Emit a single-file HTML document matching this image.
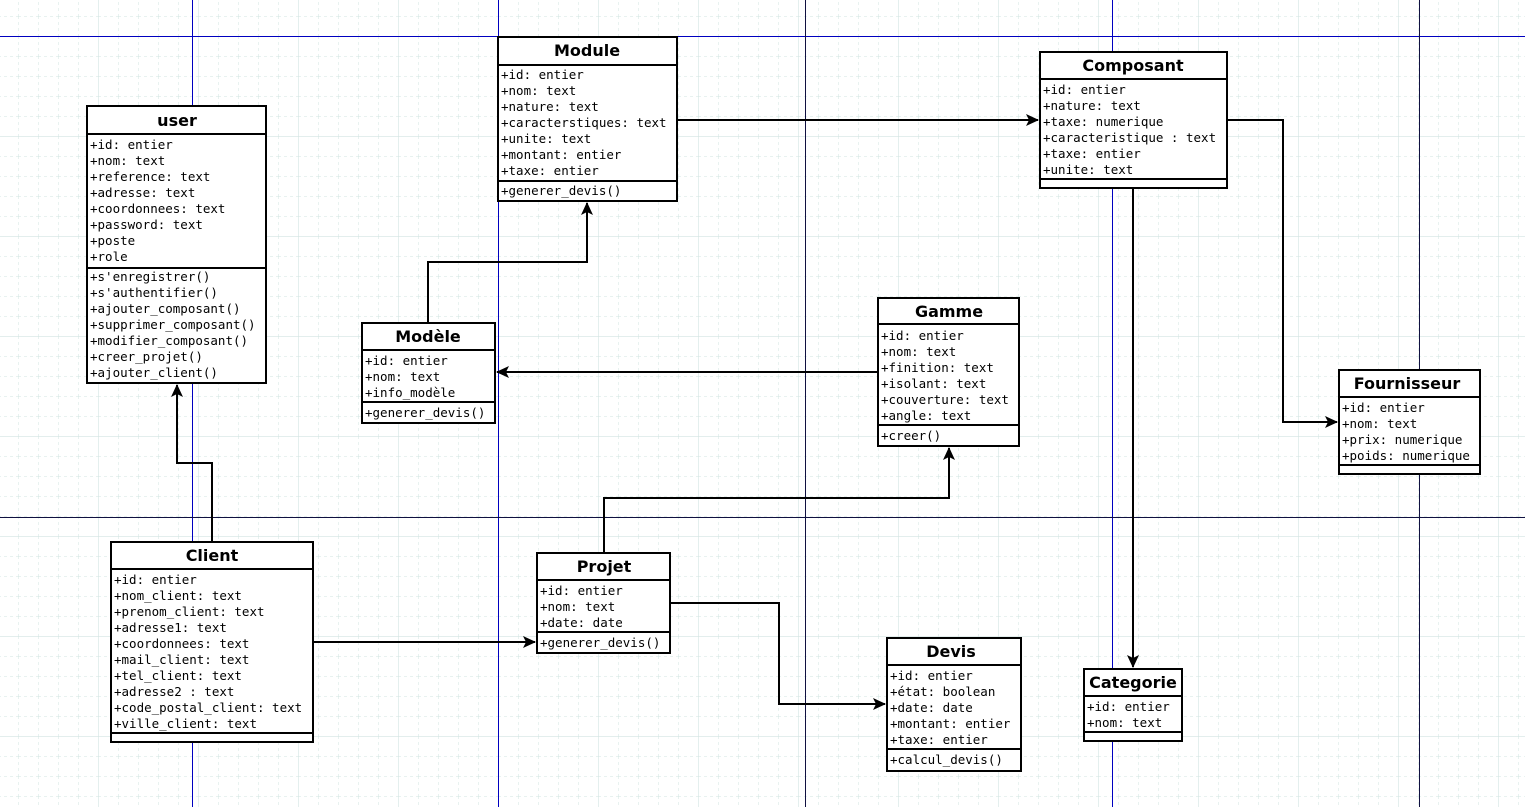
<!DOCTYPE html>
<html><head><meta charset="utf-8"><style>
html,body{margin:0;padding:0;background:#fff;}
svg{display:block;}
.t{font-family:"DejaVu Sans","Liberation Sans",sans-serif;font-weight:bold;font-size:16px;text-anchor:middle;}
.a{font-family:"DejaVu Sans Mono","Liberation Mono",monospace;font-size:12.5px;}
.b{fill:#fff;stroke:#000;stroke-width:2;}
.l{stroke:#000;stroke-width:2;fill:none;}
</style></head><body>
<svg width="1525" height="807" xmlns="http://www.w3.org/2000/svg">
<defs>
<pattern id="mn" x="18" y="16" width="20" height="20" patternUnits="userSpaceOnUse">
<path d="M0 0V20M0 0H20" stroke="#d2e4e2" stroke-width="1" stroke-dasharray="3,3" fill="none"/>
</pattern>
<pattern id="mj" x="98" y="36" width="100" height="100" patternUnits="userSpaceOnUse">
<path d="M0 0V100M0 0H100" stroke="#d2e4e2" stroke-width="1.2" fill="none"/>
</pattern>
<marker id="ar" markerWidth="14" markerHeight="12" refX="12" refY="6" orient="auto" markerUnits="userSpaceOnUse">
<path d="M0 0L13 6L0 12L3 6Z" fill="#000"/>
</marker>
</defs>
<rect width="1525" height="807" fill="#fff"/>
<rect width="1525" height="807" fill="url(#mn)"/>
<rect width="1525" height="807" fill="url(#mj)"/>
<g stroke="#0000c0" stroke-width="1">
<line x1="192.5" y1="0" x2="192.5" y2="807"/>
<line x1="498.5" y1="0" x2="498.5" y2="807"/>
<line x1="1112.5" y1="0" x2="1112.5" y2="807"/>
<line x1="0" y1="36.5" x2="1525" y2="36.5"/>
</g>
<g stroke="#101040" stroke-width="1">
<line x1="805.5" y1="0" x2="805.5" y2="807"/>
<line x1="1419.5" y1="0" x2="1419.5" y2="807"/>
<line x1="0" y1="517.5" x2="1525" y2="517.5"/>
</g>

<!-- connectors -->
<path class="l" d="M677 120H1038" marker-end="url(#ar)"/>
<path class="l" d="M1227 120H1283V422H1337" marker-end="url(#ar)"/>
<path class="l" d="M1133 188V667" marker-end="url(#ar)"/>
<path class="l" d="M428 323V262H587V203" marker-end="url(#ar)"/>
<path class="l" d="M878 372H497" marker-end="url(#ar)"/>
<path class="l" d="M212 542V463H177V385" marker-end="url(#ar)"/>
<path class="l" d="M313 642H535" marker-end="url(#ar)"/>
<path class="l" d="M604 553V498H949V448" marker-end="url(#ar)"/>
<path class="l" d="M670 603H779V704H885" marker-end="url(#ar)"/>

<!-- user -->
<rect class="b" x="87" y="106" width="179" height="277"/>
<line class="l" x1="87" y1="134" x2="266" y2="134"/>
<line class="l" x1="87" y1="268" x2="266" y2="268"/>
<text class="t" x="177" y="126">user</text>
<g class="a"><text x="90" y="149">+id: entier</text><text x="90" y="165">+nom: text</text><text x="90" y="181">+reference: text</text><text x="90" y="197">+adresse: text</text><text x="90" y="213">+coordonnees: text</text><text x="90" y="229">+password: text</text><text x="90" y="245">+poste</text><text x="90" y="261">+role</text>
<text x="90" y="281">+s'enregistrer()</text><text x="90" y="297">+s'authentifier()</text><text x="90" y="313">+ajouter_composant()</text><text x="90" y="329">+supprimer_composant()</text><text x="90" y="345">+modifier_composant()</text><text x="90" y="361">+creer_projet()</text><text x="90" y="377">+ajouter_client()</text></g>

<!-- Module -->
<rect class="b" x="498" y="37" width="179" height="164"/>
<line class="l" x1="498" y1="65" x2="677" y2="65"/>
<line class="l" x1="498" y1="181" x2="677" y2="181"/>
<text class="t" x="587" y="56">Module</text>
<g class="a"><text x="501" y="79">+id: entier</text><text x="501" y="95">+nom: text</text><text x="501" y="111">+nature: text</text><text x="501" y="127">+caracterstiques: text</text><text x="501" y="143">+unite: text</text><text x="501" y="159">+montant: entier</text><text x="501" y="175">+taxe: entier</text><text x="501" y="195">+generer_devis()</text></g>

<!-- Composant -->
<rect class="b" x="1040" y="52" width="187" height="136"/>
<line class="l" x1="1040" y1="79" x2="1227" y2="79"/>
<line class="l" x1="1040" y1="179" x2="1227" y2="179"/>
<text class="t" x="1133" y="71">Composant</text>
<g class="a"><text x="1043" y="94">+id: entier</text><text x="1043" y="110">+nature: text</text><text x="1043" y="126">+taxe: numerique</text><text x="1043" y="142">+caracteristique : text</text><text x="1043" y="158">+taxe: entier</text><text x="1043" y="174">+unite: text</text></g>

<!-- Modele -->
<rect class="b" x="362" y="323" width="133" height="100"/>
<line class="l" x1="362" y1="350" x2="495" y2="350"/>
<line class="l" x1="362" y1="402" x2="495" y2="402"/>
<text class="t" x="428" y="342">Modèle</text>
<g class="a"><text x="365" y="365">+id: entier</text><text x="365" y="381">+nom: text</text><text x="365" y="397">+info_modèle</text><text x="365" y="417">+generer_devis()</text></g>

<!-- Gamme -->
<rect class="b" x="878" y="298" width="141" height="148"/>
<line class="l" x1="878" y1="324" x2="1019" y2="324"/>
<line class="l" x1="878" y1="425" x2="1019" y2="425"/>
<text class="t" x="949" y="317">Gamme</text>
<g class="a"><text x="881" y="340">+id: entier</text><text x="881" y="356">+nom: text</text><text x="881" y="372">+finition: text</text><text x="881" y="388">+isolant: text</text><text x="881" y="404">+couverture: text</text><text x="881" y="420">+angle: text</text><text x="881" y="440">+creer()</text></g>

<!-- Fournisseur -->
<rect class="b" x="1339" y="370" width="141" height="104"/>
<line class="l" x1="1339" y1="397" x2="1480" y2="397"/>
<line class="l" x1="1339" y1="465" x2="1480" y2="465"/>
<text class="t" x="1407" y="389">Fournisseur</text>
<g class="a"><text x="1342" y="412">+id: entier</text><text x="1342" y="428">+nom: text</text><text x="1342" y="444">+prix: numerique</text><text x="1342" y="460">+poids: numerique</text></g>

<!-- Client -->
<rect class="b" x="111" y="542" width="202" height="200"/>
<line class="l" x1="111" y1="569" x2="313" y2="569"/>
<line class="l" x1="111" y1="733" x2="313" y2="733"/>
<text class="t" x="212" y="561">Client</text>
<g class="a"><text x="114" y="584">+id: entier</text><text x="114" y="600">+nom_client: text</text><text x="114" y="616">+prenom_client: text</text><text x="114" y="632">+adresse1: text</text><text x="114" y="648">+coordonnees: text</text><text x="114" y="664">+mail_client: text</text><text x="114" y="680">+tel_client: text</text><text x="114" y="696">+adresse2 : text</text><text x="114" y="712">+code_postal_client: text</text><text x="114" y="728">+ville_client: text</text></g>

<!-- Projet -->
<rect class="b" x="537" y="553" width="133" height="100"/>
<line class="l" x1="537" y1="580" x2="670" y2="580"/>
<line class="l" x1="537" y1="632" x2="670" y2="632"/>
<text class="t" x="604" y="572">Projet</text>
<g class="a"><text x="540" y="595">+id: entier</text><text x="540" y="611">+nom: text</text><text x="540" y="627">+date: date</text><text x="540" y="647">+generer_devis()</text></g>

<!-- Devis -->
<rect class="b" x="887" y="638" width="134" height="133"/>
<line class="l" x1="887" y1="665" x2="1021" y2="665"/>
<line class="l" x1="887" y1="749" x2="1021" y2="749"/>
<text class="t" x="951" y="657">Devis</text>
<g class="a"><text x="890" y="680">+id: entier</text><text x="890" y="696">+état: boolean</text><text x="890" y="712">+date: date</text><text x="890" y="728">+montant: entier</text><text x="890" y="744">+taxe: entier</text><text x="890" y="764">+calcul_devis()</text></g>

<!-- Categorie -->
<rect class="b" x="1084" y="669" width="98" height="72"/>
<line class="l" x1="1084" y1="696" x2="1182" y2="696"/>
<line class="l" x1="1084" y1="732" x2="1182" y2="732"/>
<text class="t" x="1133" y="688">Categorie</text>
<g class="a"><text x="1087" y="711">+id: entier</text><text x="1087" y="727">+nom: text</text></g>
</svg>
</body></html>
